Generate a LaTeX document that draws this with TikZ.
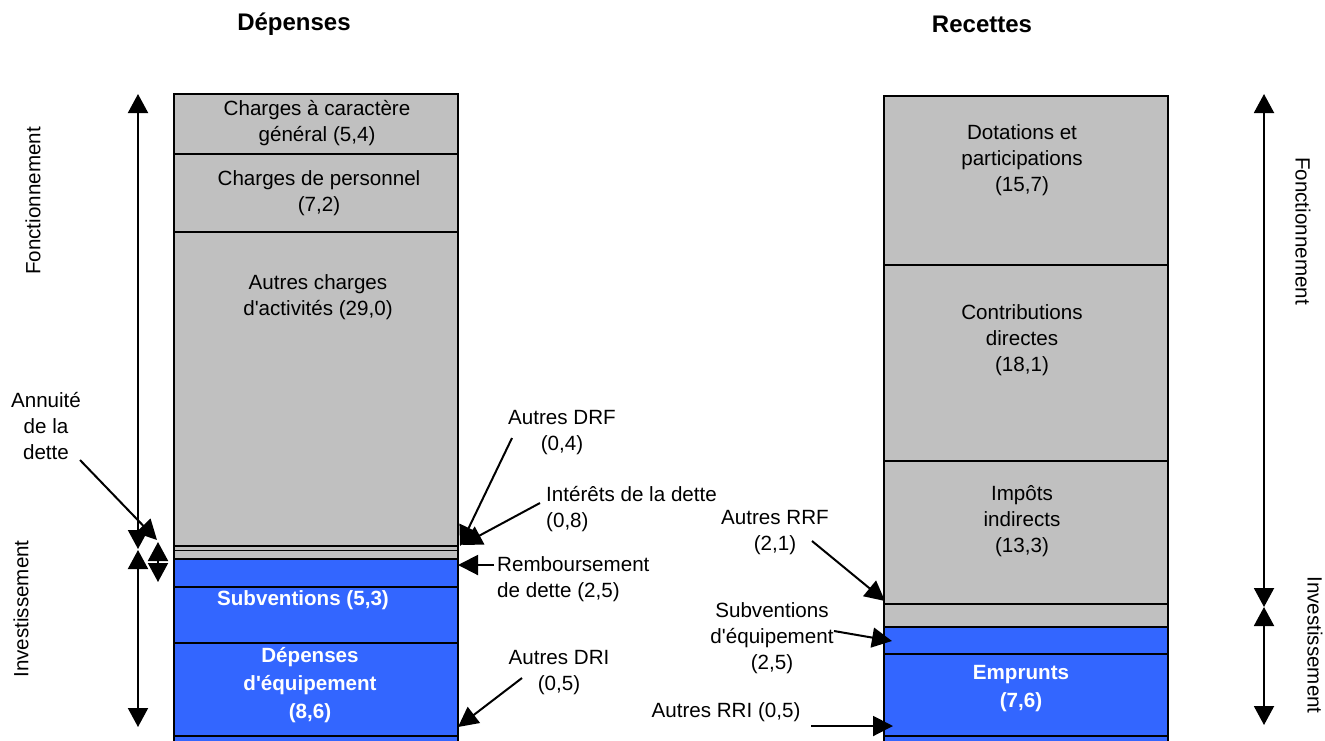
\documentclass[tikz,border=0pt]{standalone}
\usepackage{fontspec}
\setmainfont{Liberation Sans}
\usetikzlibrary{arrows.meta}
\definecolor{segGray}{HTML}{C0C0C0}
\definecolor{segBlue}{HTML}{3366FF}
\newcommand{\aq}{\textquotesingle}
\begin{document}
\begin{tikzpicture}[x=1pt,y=-1pt,
  every node/.style={font=\fontsize{20.6}{26}\selectfont},
  seg/.style={draw, line width=1.8pt, inner sep=0pt, outer sep=0pt, minimum width=284pt, anchor=north west},
  gseg/.style={seg, fill=segGray},
  bseg/.style={seg, fill=segBlue},
  lbl/.style={align=center, inner sep=0pt},
  llbl/.style={align=left, inner sep=0pt, anchor=west},
  wlbl/.style={align=center, inner sep=0pt, text=white, font=\fontsize{20.6}{28}\selectfont\bfseries},
  hdr/.style={inner sep=0pt, font=\fontsize{24}{28}\selectfont\bfseries},
  ptr/.style={line width=2pt, -{Triangle[length=20pt,width=20pt]}},
  spanarrow/.style={line width=2pt, {Triangle[length=19pt,width=20pt]}-{Triangle[length=19pt,width=20pt]}},
]
\useasboundingbox (0,0) rectangle (1325,740);

% headers
\node[hdr] (hDep) at (294,24) {Dépenses};
\node[hdr] (hRec) at (982,24) {Recettes};

% left bar
\node[gseg, minimum height=60pt]  (c1) at (174,94) {};
\node[gseg, minimum height=78pt]  (c2) at (174,154) {};
\node[gseg, minimum height=314pt] (c3) at (174,232) {};
\node[gseg, minimum height=4.5pt] (c4) at (174,546) {};
\node[gseg, minimum height=8.5pt] (c5) at (174,550.5) {};
\node[bseg, minimum height=28pt]  (c6) at (174,559) {};
\node[bseg, minimum height=56pt]  (c7) at (174,587) {};
\node[bseg, minimum height=93pt]  (c8) at (174,643) {};
\node[bseg, minimum height=6pt]   (c9) at (174,736) {};

\node[lbl] (t1) at (317,123) {Charges à caractère\\général (5,4)};
\node[lbl] (t2) at (319,193) {Charges de personnel\\(7,2)};
\node[lbl] (t3) at (318,297) {Autres charges\\d\aq activités (29,0)};
\node[wlbl] (t7) at (303,600) {Subventions (5,3)};
\node[wlbl] (t8) at (310,685) {Dépenses\\d\aq équipement\\(8,6)};

% right bar
\node[gseg, minimum height=169pt] (r1) at (884,96) {};
\node[gseg, minimum height=196pt] (r2) at (884,265) {};
\node[gseg, minimum height=143pt] (r3) at (884,461) {};
\node[gseg, minimum height=23pt]  (r4) at (884,604) {};
\node[bseg, minimum height=27pt]  (r5) at (884,627) {};
\node[bseg, minimum height=82pt]  (r6) at (884,654) {};
\node[bseg, minimum height=8pt]   (r7) at (884,736) {};

\node[lbl] (s1) at (1022,160) {Dotations et\\participations\\(15,7)};
\node[lbl] (s2) at (1022,340) {Contributions\\directes\\(18,1)};
\node[lbl] (s3) at (1022,521) {Impôts\\indirects\\(13,3)};
\node[wlbl] (s6) at (1021,689) {Emprunts\\(7,6)};

% side labels
\node[lbl, rotate=90]  (fL) at (33,201)   {Fonctionnement};
\node[lbl, rotate=90]  (iL) at (21,609)   {Investissement};
\node[lbl, rotate=-90] (fR) at (1303,231) {Fonctionnement};
\node[lbl, rotate=-90] (iR) at (1315,645) {Investissement};

% span arrows
\coordinate (lTop) at (138,94);
\coordinate (lMid) at (138,549);
\coordinate (lMid2) at (138,550);
\coordinate (lBot) at (138,727);
\draw[spanarrow] (lTop) -- (lMid);
\draw[spanarrow] (lMid2) -- (lBot);
\coordinate (aTop) at (158,542);
\coordinate (aBot) at (158,582);
\draw[spanarrow] (aTop) -- (aBot);

\coordinate (rTop) at (1264,94);
\coordinate (rMid) at (1264,607);
\coordinate (rBot) at (1264,725);
\draw[spanarrow] (rTop) -- (rMid);
\draw[spanarrow] (rMid) -- (rBot);

% left labels
\node[lbl] (lAnn) at (46,426) {Annuité\\de la\\dette};
\node[lbl] (lDRF) at (562,433) {Autres DRF\\(0,4)};
\node[llbl] (lInt) at (546,509) {Intérêts de la dette\\(0,8)};
\node[llbl] (lRem) at (497,579) {Remboursement\\de dette (2,5)};
\node[lbl] (lDRI) at (559,673) {Autres DRI\\(0,5)};

\coordinate (annS) at (80,460);
\coordinate (annT) at (157,540);
\coordinate (drfS) at (512,438);
\coordinate (drfT) at (460,546);
\coordinate (intS) at (540,503);
\coordinate (intT) at (462,545);
\coordinate (remS) at (494,565);
\coordinate (remT) at (458,565);
\coordinate (driS) at (522,678);
\coordinate (driT) at (458,727);
\draw[ptr] (annS) -- (annT);
\draw[ptr] (drfS) -- (drfT);
\draw[ptr] (intS) -- (intT);
\draw[ptr] (remS) -- (remT);
\draw[ptr] (driS) -- (driT);

% right labels
\node[lbl] (lRRF) at (775,533) {Autres RRF\\(2,1)};
\node[lbl] (lSub) at (772,638) {Subventions\\d\aq équipement\\(2,5)};
\node[lbl] (lRRI) at (726,712) {Autres RRI (0,5)};

\coordinate (rrfS) at (812,541);
\coordinate (rrfT) at (885,601);
\coordinate (subS) at (834,631);
\coordinate (subT) at (892,641);
\coordinate (rriS) at (811,726);
\coordinate (rriT) at (893,726);
\draw[ptr] (rrfS) -- (rrfT);
\draw[ptr] (subS) -- (subT);
\draw[ptr] (rriS) -- (rriT);
\end{tikzpicture}
\end{document}
